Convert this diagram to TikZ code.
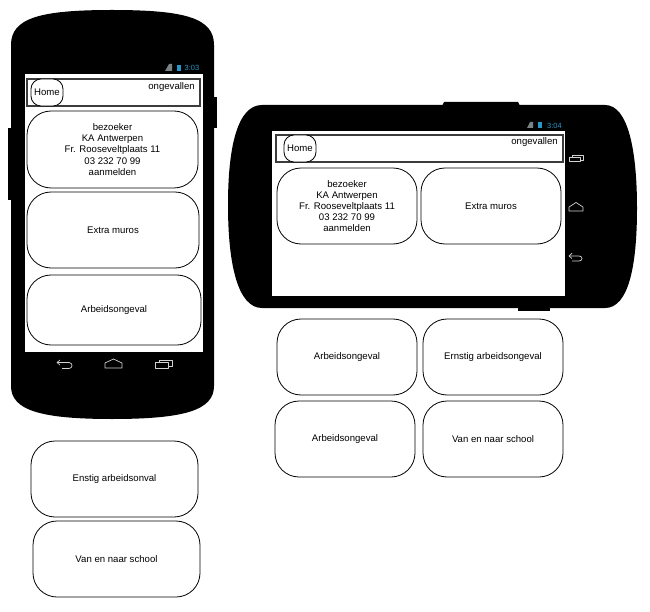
\documentclass[tikz,border=0pt]{standalone}
\usepackage{fontspec}
\setmainfont{Liberation Sans}
\usetikzlibrary{calc}
\definecolor{statusblue}{RGB}{40,150,200}
\definecolor{statusgray}{RGB}{120,130,130}
\definecolor{barline}{RGB}{60,60,60}
\definecolor{iconline}{RGB}{210,210,210}
\tikzset{
  x=1pt,y=-1pt,
  cardbox/.style={draw=black,line width=0.8pt,fill=white,rounded corners=24pt,inner sep=0pt,align=center,font=\fontsize{9.6}{11.2}\selectfont},
  homebox/.style={cardbox,rounded corners=10pt},
  barbox/.style={draw=barline,line width=1.2pt,fill=white,inner sep=0pt},
  label/.style={inner sep=0pt,font=\fontsize{9.6}{11.2}\selectfont},
  softkey/.style={draw=iconline,line width=0.7pt,line join=round},
  statustime/.style={inner sep=0pt,text=statusblue,font=\fontsize{7.5}{9}\selectfont},
}
\newcommand{\boxat}[7][cardbox]{%
  \node[#1,minimum width=#5pt-#3pt,minimum height=#6pt-#4pt] (#2) at ({(#3+#5)/2},{(#4+#6)/2}) {#7};}
\begin{document}
\begin{tikzpicture}
\useasboundingbox (0,0) rectangle (650,612);
\fill[white] (0,0) rectangle (650,612);
% portrait phone
\fill[black] (214,97) rectangle (217,128);
\fill[black] (8,128) rectangle (12,200);
\fill[black] (11,45) .. controls (11,18) and (40,10) .. (112,10) .. controls (185,10) and (214,18) .. (214,45)
  -- (214,386) .. controls (214,410) and (185,419) .. (112,419) .. controls (40,419) and (11,410) .. (11,386) -- cycle;
\fill[white] (25,74) rectangle (203,352);
\fill[statusgray] (169,64) -- (172,64) -- (172,71) -- (165,71) -- cycle;
\fill[statusblue] (176.5,65) rectangle (181,71);
\node[statustime,anchor=east] (ptime) at (199.5,67.5) {3:03};
\boxat[barbox]{pbar}{27}{79}{200}{106}{}
\boxat[homebox]{phome}{31}{79}{63}{106}{Home}
\node[label,anchor=east] (ponge) at (195,87) {ongevallen};
\boxat{pcardA}{27}{111}{198}{188}{bezoeker\\KA Antwerpen\\Fr. Rooseveltplaats 11\\03 232 70 99\\aanmelden}
\boxat{pcardB}{27}{192}{199}{268}{Extra muros}
\boxat{pcardC}{27}{275}{201}{345}{Arbeidsongeval}
% portrait soft keys
\draw[softkey] (60,360) -- (57,362.5) -- (60,365);
\draw[softkey] (57,362.5) -- (69,362.5) .. controls (73,362.5) and (73,368.5) .. (69,368.5) -- (62,368.5);
\draw[softkey] (105,363) -- (113.5,359) -- (122,363) -- (122,368) -- (105,368) -- cycle;
\draw[softkey] (155,362.5) -- (168,362.5) -- (168,368) -- (155,368) -- cycle;
\draw[softkey] (159,362.5) -- (159,360.5) -- (172,360.5) -- (172,366) -- (168,366);
% lower left cards
\boxat{lcardA}{31}{441}{198}{517}{Enstig arbeidsonval}
\boxat{lcardB}{33}{521}{200}{597}{Van en naar school}
% landscape phone
\fill[black] (444,102) -- (518,102) -- (520,106) -- (442,106) -- cycle;
\fill[black] (518,306) rectangle (550,311);
\fill[black] (262,105) -- (605,105) .. controls (628,105) and (637,150) .. (637,208)
  .. controls (637,268) and (628,308) .. (605,308) -- (262,308)
  .. controls (238,308) and (228,265) .. (228,205) .. controls (228,145) and (238,105) .. (262,105) -- cycle;
\fill[white] (272,131) rectangle (565,296);
\fill[statusgray] (530,122) -- (533,122) -- (533,128) -- (527,128) -- cycle;
\fill[statusblue] (538,122.5) rectangle (542,128);
\node[statustime,anchor=east] (ltime) at (562,125.5) {3:04};
\boxat[barbox]{lbar}{276}{135}{563}{162}{}
\boxat[homebox]{lhome}{284}{135}{316}{162}{Home}
\node[label,anchor=east] (longe) at (558,142) {ongevallen};
\boxat{rcardA}{277}{168}{417}{244}{bezoeker\\KA Antwerpen\\Fr. Rooseveltplaats 11\\03 232 70 99\\aanmelden}
\boxat{rcardB}{421}{168}{561}{244}{Extra muros}
% landscape soft keys
\draw[softkey] (569,157.5) -- (580,157.5) -- (580,161.5) -- (569,161.5) -- cycle;
\draw[softkey] (572,157.5) -- (572,155) -- (583,155) -- (583,160) -- (580,160);
\draw[softkey] (569,207) -- (576,202.5) -- (583,207) -- (583,211) -- (569,211) -- cycle;
\draw[softkey] (572,253) -- (569,256) -- (572,258.5);
\draw[softkey] (569,256) -- (579,256) .. controls (583,256) and (583,261) .. (579,261) -- (572,261);
% lower right cards
\boxat{rcardC}{277}{319}{417}{395}{Arbeidsongeval}
\boxat{rcardD}{423}{319}{563}{395}{Ernstig arbeidsongeval}
\boxat{rcardE}{275}{401}{415}{477}{Arbeidsongeval}
\boxat{rcardF}{423}{401}{563}{477}{Van en naar school}
\end{tikzpicture}
\end{document}
